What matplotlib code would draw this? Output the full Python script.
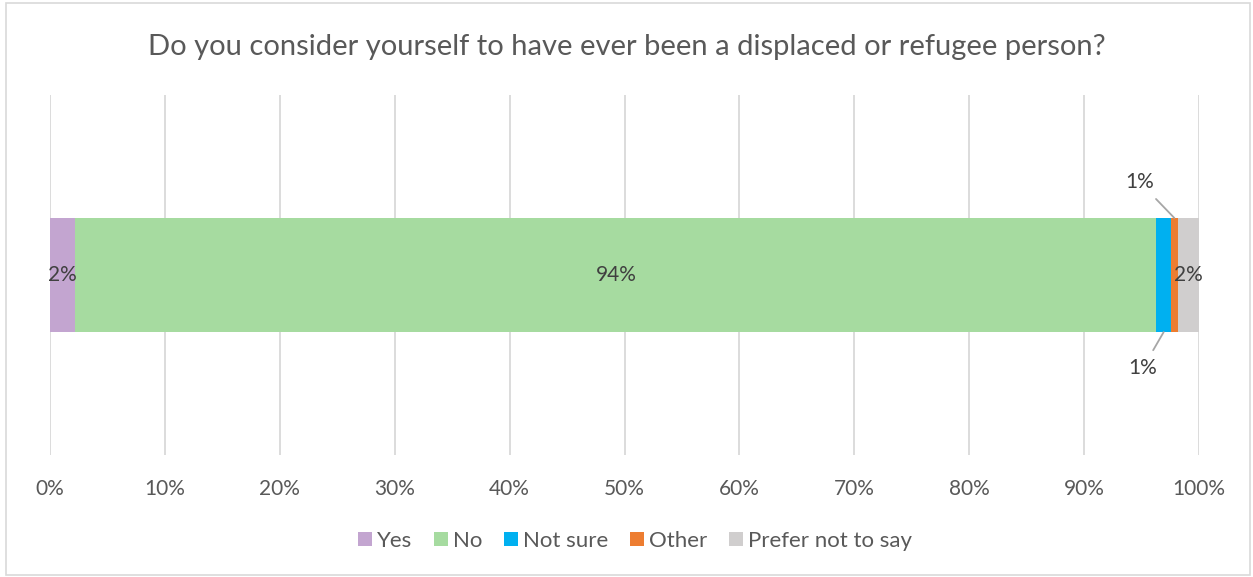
import matplotlib.pyplot as plt
from matplotlib.ticker import PercentFormatter

plt.rcParams['font.family'] = ['Lato', 'DejaVu Sans']

categories = ["Yes", "No", "Not sure", "Other", "Prefer not to say"]
shares = [2.2, 94.1, 1.25, 0.6, 1.85]
labels = ["2%", "94%", "1%", "1%", "2%"]
colors = ["#C3A5D0", "#A6DBA0", "#00B0F0", "#ED7D31", "#D0CECE"]

text_col = "#595959"

fig = plt.figure(figsize=(12.53, 5.77), dpi=100)
ax = fig.add_axes([50 / 1253, 1 - 455 / 577, 1149 / 1253, 360 / 577])

left = 0
bars = []
for cat, val, col in zip(categories, shares, colors):
    ax.barh(0, val, left=left, height=0.317, color=col, label=cat, zorder=3)
    bars.append((left, val))
    left += val

# in-bar labels for the wide segments
for i in (0, 1, 4):
    l, v = bars[i]
    ax.text(l + v / 2, 0, labels[i], ha="center", va="center",
            fontsize=15, color="#404040", zorder=4)

# callouts for the thin segments
l, v = bars[2]
ax.annotate(labels[2], xy=(l + v / 2, -0.1585), xytext=(l + v / 2 - 1.8, -0.23),
            ha="center", va="top", fontsize=15, color="#404040",
            arrowprops=dict(arrowstyle="-", color="#A6A6A6", lw=1.3,
                            shrinkA=4, shrinkB=0))
l, v = bars[3]
ax.annotate(labels[3], xy=(l + v / 2, 0.1585), xytext=(l + v / 2 - 3.0, 0.23),
            ha="center", va="bottom", fontsize=15, color="#404040",
            arrowprops=dict(arrowstyle="-", color="#A6A6A6", lw=1.3,
                            shrinkA=4, shrinkB=0))

ax.set_xlim(0, 100)
ax.set_ylim(-0.5, 0.5)
ax.set_xticks(range(0, 101, 10))
ax.xaxis.set_major_formatter(PercentFormatter(decimals=0))
ax.set_yticks([])
ax.grid(axis="x", color="#D9D9D9", lw=1.3, zorder=0)
for s in ax.spines.values():
    s.set_visible(False)
ax.tick_params(axis="x", length=0, pad=17, labelsize=15, labelcolor=text_col)

fig.text(0.5, 1 - 47 / 577, "Do you consider yourself to have ever been a displaced or refugee person?",
         ha="center", va="center", fontsize=21, color=text_col)

handles, lbls = ax.get_legend_handles_labels()
fig.legend(handles, lbls, loc="center", bbox_to_anchor=(635 / 1253, 1 - 541 / 577), ncol=5,
           frameon=False, fontsize=16, labelcolor=text_col, handlelength=0.63,
           handleheight=0.63, handletextpad=0.25, columnspacing=0.95)

# chart border
fig.patches.append(plt.Rectangle((6 / 1253, 2 / 577), 1244 / 1253, 572 / 577,
                                 transform=fig.transFigure, fill=False,
                                 edgecolor="#D9D9D9", lw=1.2))

fig.savefig("out.png", dpi=100)
